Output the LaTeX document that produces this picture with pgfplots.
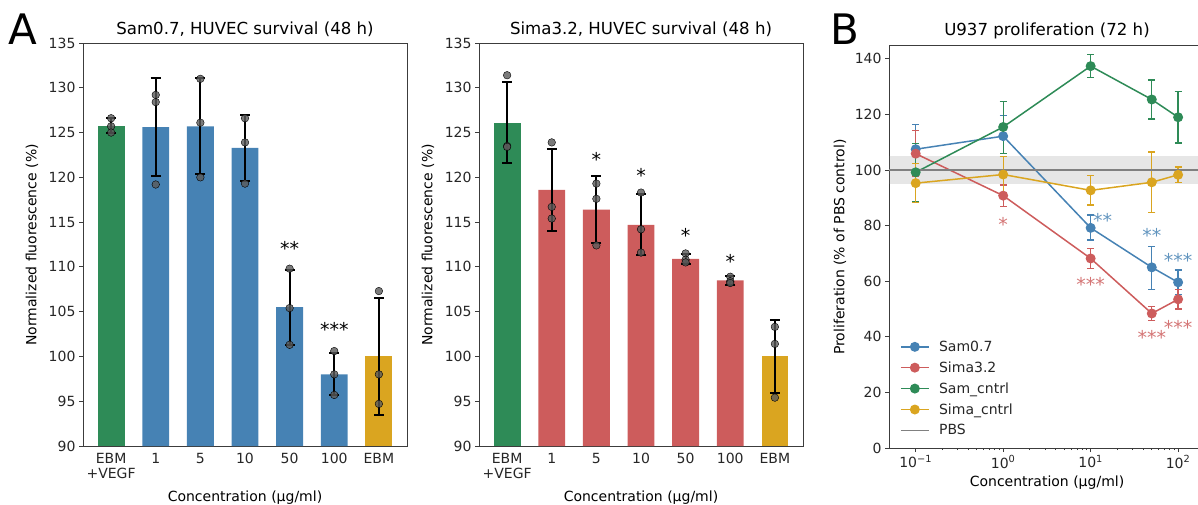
\documentclass[border=0pt]{standalone}
\usepackage{fontspec}
\setmainfont{DejaVu Sans}
\usepackage{pgfplots}
\pgfplotsset{compat=1.18}

\definecolor{cblue}{RGB}{70,130,180}
\definecolor{cred}{RGB}{205,92,92}
\definecolor{cgreen}{RGB}{46,139,87}
\definecolor{cgold}{RGB}{218,165,32}
\definecolor{dotgray}{RGB}{90,90,90}
\definecolor{spine}{RGB}{60,60,60}

\newcommand{\tickfont}{\fontsize{14}{14.5}\selectfont}
\newcommand{\titlefont}{\fontsize{16.6}{18}\selectfont}

\tikzset{stars/.style={font=\fontsize{19}{19}\selectfont, anchor=base, yshift=-11pt, inner sep=0pt}}

\pgfplotsset{
  panel/.style={scale only axis, height=403pt,
    axis line style={spine, line width=0.8pt},
    tick style={spine, line width=0.8pt},
    tick align=outside, major tick length=4pt, minor tick length=2pt,
    xtick pos=bottom, ytick pos=left,
    ticklabel style={font=\tickfont, text=black!85},
    /pgf/number format/assume math mode=true},
  barpanel/.style={panel, width=324pt,
    xmin=-0.63, xmax=6.63, ymin=90, ymax=135, ytick={90,95,...,135},
    xtick={0,...,6}, xticklabels={{EBM\\+VEGF},1,5,10,50,100,EBM},
    xticklabel style={align=center}, xtick style={draw=none}},
  bar/.style={ybar, bar width=0.6, bar shift=0pt, draw=none, fill=#1,
    error bars/.cd, y dir=both, y explicit,
    error bar style={draw=black, line width=2pt},
    error mark options={rotate=90, draw=black, line width=2pt, mark size=5pt}},
  dots/.style={only marks, mark=*, mark size=3.8pt,
    mark options={draw=none, fill=dotgray, fill opacity=0.8}},
  series/.style={color=#1, line width=1.5pt, mark=*, mark size=4.2pt,
    mark options={draw=#1, fill=#1},
    error bars/.cd, y dir=both, y explicit,
    error bar style={draw=#1, line width=1.3pt},
    error mark options={rotate=90, draw=#1, line width=1.3pt, mark size=3.5pt}},
}

\begin{document}
\begin{tikzpicture}
\useasboundingbox (0pt,0pt) rectangle (1198pt,504pt);

% ---- A, left: Sam0.7
\begin{axis}[barpanel, at={(83pt,58pt)}, anchor=south west]
\addplot[bar=cgreen] coordinates {(0,125.75) +- (0,0.85)};
\addplot[bar=cblue] coordinates {(1,125.6) +- (0,5.5) (2,125.7) +- (0,5.35) (3,123.3) +- (0,3.7) (4,105.5) +- (0,4.2) (5,98.0) +- (0,2.35)};
\addplot[bar=cgold] coordinates {(6,100) +- (0,6.5)};
\addplot[dots] coordinates {
  (0,126.6) (0,125.7) (0,125.0)
  (1,129.2) (1,128.4) (1,119.2)
  (2,131.0) (2,126.1) (2,120.0)
  (3,126.6) (3,123.9) (3,119.3)
  (4,109.8) (4,105.4) (4,101.3)
  (5,100.6) (5,98.0) (5,95.7)
  (6,107.3) (6,98.0) (6,94.7)};
\node[stars] at (axis cs:4,112.5) {**};
\node[stars] at (axis cs:5,103.4) {***};
\end{axis}

% ---- A, right: Sima3.2
\begin{axis}[barpanel, at={(479pt,58pt)}, anchor=south west]
\addplot[bar=cgreen] coordinates {(0,126.1) +- (0,4.5)};
\addplot[bar=cred] coordinates {(1,118.6) +- (0,4.55) (2,116.4) +- (0,3.7) (3,114.7) +- (0,3.4) (4,110.9) +- (0,0.55) (5,108.5) +- (0,0.5)};
\addplot[bar=cgold] coordinates {(6,100) +- (0,4.1)};
\addplot[dots] coordinates {
  (0,131.4) (0,123.5) (0,123.4)
  (1,123.9) (1,116.7) (1,115.4)
  (2,119.3) (2,117.6) (2,112.4)
  (3,118.3) (3,114.2) (3,111.6)
  (4,111.5) (4,110.8) (4,110.5)
  (5,108.9) (5,108.4) (5,108.2)
  (6,103.3) (6,101.4) (6,95.4)};
\node[stars] at (axis cs:2,122.4) {*};
\node[stars] at (axis cs:3,120.7) {*};
\node[stars] at (axis cs:4,113.9) {*};
\node[stars] at (axis cs:5,111.1) {*};
\end{axis}

% ---- B: U937
\begin{axis}[panel, width=311pt, at={(889pt,56pt)}, anchor=south west,
  xmode=log, xmin=0.0495, xmax=178, ymin=0, ymax=145,
  ytick={0,20,...,140}, xtick={0.1,1,10,100},
  xticklabels={10\textsuperscript{−1},10\textsuperscript{0},10\textsuperscript{1},10\textsuperscript{2}},
  legend style={at={(0.035,0.27)}, anchor=north west, draw=none, fill=none,
    font=\tickfont, row sep=5.8pt, inner sep=0pt,
    nodes={inner sep=1.5pt, text=black!85},
    /tikz/every odd column/.append style={column sep=8pt}},
  legend cell align=left,
  legend image code/.code={\draw[mark=none] (0pt,0pt) -- (28pt,0pt); \draw plot coordinates {(14pt,0pt)};}]
\addplot[draw=none, fill=gray, fill opacity=0.2, forget plot] coordinates {(0.0495,95) (178,95) (178,105) (0.0495,105)} -- cycle;
\addplot[series=cblue] coordinates {(0.1,107.5) +- (0,9) (1,112.2) += (0,7.5) -= (0,6.2) (10,79.2) += (0,4.6) -= (0,4.4) (50,65.0) += (0,7.4) -= (0,7.9) (100,59.6) += (0,4.4) -= (0,4.3)};
\addplot[series=cred] coordinates {(0.1,105.9) +- (0,8.3) (1,90.8) += (0,3.8) -= (0,4) (10,68.2) +- (0,3.5) (50,48.4) +- (0,2.5) (100,53.5) +- (0,3.5)};
\addplot[series=cgreen] coordinates {(0.1,99.2) += (0,10.4) -= (0,10.7) (1,115.5) += (0,9.1) -= (0,9.5) (10,137.4) += (0,4.2) -= (0,4.1) (50,125.4) +- (0,7) (100,119) +- (0,9.3)};
\addplot[series=cgold] coordinates {(0.1,95.3) +- (0,7) (1,98.4) +- (0,6.5) (10,92.7) +- (0,5.3) (50,95.6) +- (0,10.9) (100,98.3) +- (0,2.8)};
\addplot[gray, line width=1.2pt, mark=none] coordinates {(0.0495,100) (178,100)};
\legend{Sam0.7,Sima3.2,Sam\_cntrl,Sima\_cntrl,PBS}
\node[stars, text=cblue!85] at (axis cs:13.7,83.2) {**};
\node[stars, text=cblue!85] at (axis cs:50,77.8) {**};
\node[stars, text=cblue!85] at (axis cs:100,68.8) {***};
\node[stars, text=cred!85] at (axis cs:1,82.0) {*};
\node[stars, text=cred!85] at (axis cs:10,60.1) {***};
\node[stars, text=cred!85] at (axis cs:50,41.2) {***};
\node[stars, text=cred!85] at (axis cs:100,44.8) {***};
\end{axis}

% ---- titles, labels, panel letters
\node[font=\titlefont] at (245pt,475pt) {Sam0.7, HUVEC survival (48 h)};
\node[font=\titlefont] at (641pt,475pt) {Sima3.2, HUVEC survival (48 h)};
\node[font=\titlefont] at (1047pt,473pt) {U937 proliferation (72 h)};
\node[font=\tickfont, rotate=90] at (32pt,259pt) {Normalized fluorescence (\%)};
\node[font=\tickfont, rotate=90] at (428pt,259pt) {Normalized fluorescence (\%)};
\node[font=\tickfont, rotate=90] at (840pt,257pt) {Proliferation (\% of PBS control)};
\node[font=\tickfont] at (245pt,6pt) {Concentration (µg/ml)};
\node[font=\tickfont] at (641pt,6pt) {Concentration (µg/ml)};
\node[font=\tickfont] at (1047pt,21pt) {Concentration (µg/ml)};
\node[font=\fontsize{42}{42}\selectfont, inner sep=0pt] at (23pt,475pt) {A};
\node[font=\fontsize{42}{42}\selectfont, inner sep=0pt] at (845pt,475pt) {B};
\end{tikzpicture}
\end{document}
